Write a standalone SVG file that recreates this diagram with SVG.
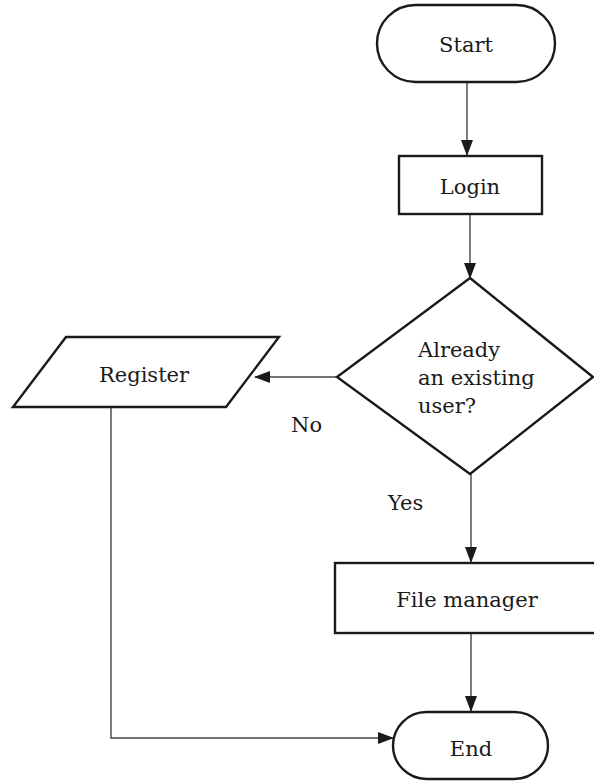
<svg xmlns="http://www.w3.org/2000/svg" width="594" height="781" viewBox="0 0 594 781">
<style>
.shape{fill:#fff;stroke:#1a1a1a;stroke-width:2.4}
.conn{fill:none;stroke:#444;stroke-width:1.4}
.t{font-family:'DejaVu Serif','Liberation Serif',serif;font-size:21px;fill:#1a1a1a}
.c{text-anchor:middle}
</style>
<defs>
<marker id="arr" markerUnits="userSpaceOnUse" markerWidth="16" markerHeight="12" refX="15" refY="6" orient="auto">
<path d="M0,0 L16,6 L0,12 Z" fill="#1a1a1a"/>
</marker>
</defs>
<rect width="594" height="781" fill="#fff"/>
<g id="connectors">
<line class="conn" x1="467" y1="82" x2="467" y2="155" marker-end="url(#arr)"/>
<line class="conn" x1="470" y1="214" x2="470" y2="278" marker-end="url(#arr)"/>
<line class="conn" x1="337" y1="377" x2="255" y2="377" marker-end="url(#arr)"/>
<line class="conn" x1="471" y1="474" x2="471" y2="562" marker-end="url(#arr)"/>
<line class="conn" x1="471" y1="633" x2="471" y2="711" marker-end="url(#arr)"/>
<path class="conn" d="M111,407 V738 H393" marker-end="url(#arr)"/>
</g>
<g id="start">
<rect class="shape" x="377" y="5" width="178" height="77" rx="38.5"/>
<text class="t c" x="466" y="52">Start</text>
</g>
<g id="login">
<rect class="shape" x="399" y="156" width="143" height="58"/>
<text class="t c" x="470" y="194">Login</text>
</g>
<g id="decision">
<polygon class="shape" points="470,278 593,377 470,474 337,377"/>
<text class="t" x="418" y="357">Already</text>
<text class="t" x="418" y="385">an existing</text>
<text class="t" x="418" y="413">user?</text>
</g>
<g id="register">
<polygon class="shape" points="66,337 279,337 226,407 13,407"/>
<text class="t c" x="144" y="382">Register</text>
</g>
<g id="filemanager">
<rect class="shape" x="335" y="563" width="262" height="70"/>
<text class="t c" x="467" y="607">File manager</text>
</g>
<g id="end">
<rect class="shape" x="393" y="712" width="155" height="67" rx="33.5"/>
<text class="t c" x="471" y="756">End</text>
</g>
<g id="labels">
<text class="t" x="291" y="432">No</text>
<text class="t" x="388" y="510">Yes</text>
</g>
</svg>
